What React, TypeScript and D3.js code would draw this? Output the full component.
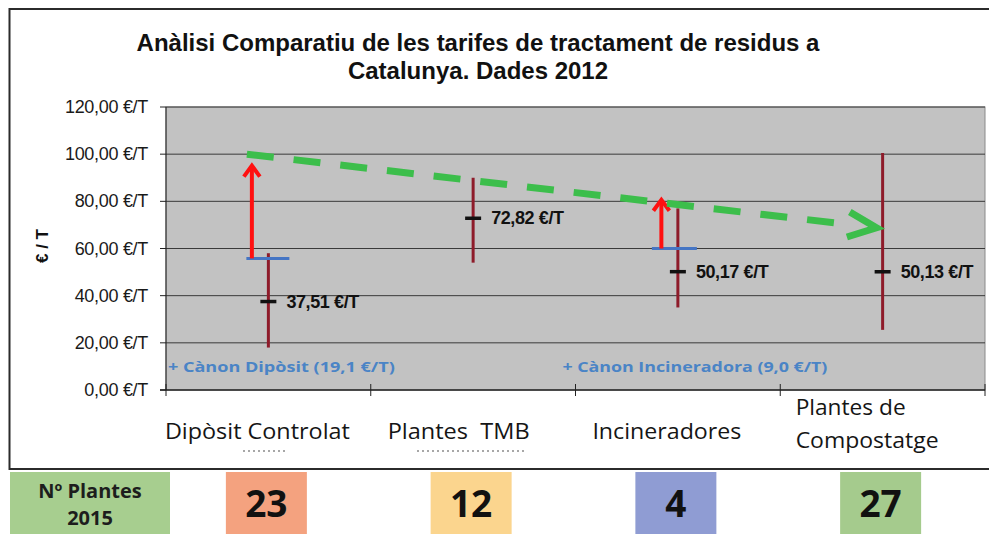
import React from "react";
import * as d3 from "d3";

// ---------- data ----------
const titleLines = [
  "Anàlisi Comparatiu de les tarifes de tractament de residus a",
  "Catalunya. Dades 2012",
];
const yAxisTitle = "€ / T";
const categories = ["Dipòsit Controlat", "Plantes  TMB", "Incineradores", "Plantes de|Compostatge"];
const maxValues = [58, 90, 77, 100.5];
const minValues = [18, 54, 35, 25.5];
const meanValues = [37.51, 72.82, 50.17, 50.13];
const meanLabels = ["37,51 €/T", "72,82 €/T", "50,17 €/T", "50,13 €/T"];
const yTicks = [0, 20, 40, 60, 80, 100, 120];
const yTickLabels = ["0,00 €/T", "20,00 €/T", "40,00 €/T", "60,00 €/T", "80,00 €/T", "100,00 €/T", "120,00 €/T"];

// canon (tax) additions: category index, level after canon, arrow tip value
const canonLabels = ["+ Cànon Dipòsit (19,1 €/T)", "+ Cànon Incineradora (9,0 €/T)"];
const canonCategory = [0, 2];
const canonLevels = [55.8, 60];
const canonArrowTips = [96, 81.5];
const canonLabelValue = 7.6;

// green trend arrow (position in category units, value)
const trendPos = [-0.105, 2.97];
const trendValues = [100, 68.8];

// number of plants 2015
const plantsLabel = ["Nº Plantes", "2015"];
const plantCounts = ["23", "12", "4", "27"];
const plantColors = ["#F4A27F", "#FBD58E", "#8F9CD3", "#A5CB8D"];
const plantsLabelColor = "#A7CE8F";

export default function App() {
  const W = 989;
  const H = 534;
  const plot = { left: 166, right: 985, top: 107, bottom: 390 };

  const x = d3.scaleLinear().domain([-0.5, 3.5]).range([plot.left, plot.right]);
  const y = d3.scaleLinear().domain([0, 120]).range([plot.bottom, plot.top]);

  const barColor = "#8E1B2A";
  const canonBlue = "#4575C4";
  const labelBlue = "#4A84C6";
  const green = "#3CBE4B";

  // trend line geometry
  const tx0 = x(trendPos[0]);
  const ty0 = y(trendValues[0]);
  const tx1 = x(trendPos[1]);
  const ty1 = y(trendValues[1]);
  const ang = Math.atan2(ty1 - ty0, tx1 - tx0);
  const headLen = 31;
  const phi = (24 * Math.PI) / 180;
  const headA: [number, number] = [tx1 - headLen * Math.cos(ang - phi), ty1 - headLen * Math.sin(ang - phi)];
  const headB: [number, number] = [tx1 - headLen * Math.cos(ang + phi), ty1 - headLen * Math.sin(ang + phi)];
  const lineEnd: [number, number] = [tx1 - 36 * Math.cos(ang), ty1 - 36 * Math.sin(ang)];
  const lineGen = d3.line();

  const catWidths = [185, 142, 149];
  const sans = "'Liberation Sans', Arial, sans-serif";

  return (
    <div style={{ position: "fixed", left: 0, top: 0, width: W, height: H, background: "#fff" }}>
      <svg width={W} height={H} viewBox={`0 0 ${W} ${H}`} style={{ display: "block" }}>
        <rect x={0} y={0} width={W} height={H} fill="#fff" />
        {/* outer frame */}
        <rect x={9.5} y={9} width={990} height={460} fill="#fff" stroke="#2b2b2b" strokeWidth={2} />

        {/* title */}
        {titleLines.map((t, i) => (
          <text
            key={t}
            x={478}
            y={51 + i * 28}
            textAnchor="middle"
            fontFamily={sans}
            fontWeight="bold"
            fontSize={24}
            fill="#111"
          >
            {t}
          </text>
        ))}

        {/* plot area */}
        <rect
          x={plot.left}
          y={plot.top}
          width={plot.right - plot.left}
          height={plot.bottom - plot.top}
          fill="#C2C2C2"
          stroke="#8a8a8a"
          strokeWidth={1}
        />
        {yTicks.filter((v) => v > 0).map((v) => (
          <line key={v} x1={plot.left} x2={plot.right} y1={y(v)} y2={y(v)} stroke="#3a3a3a" strokeWidth={1} />
        ))}

        {/* axes */}
        <line x1={plot.left} x2={plot.left} y1={plot.top} y2={plot.bottom} stroke="#222" strokeWidth={1} />
        <line x1={plot.left - 6} x2={plot.right} y1={plot.bottom} y2={plot.bottom} stroke="#222" strokeWidth={1.5} />
        {yTicks.map((v, i) => (
          <g key={v}>
            <line x1={plot.left - 6} x2={plot.left} y1={y(v)} y2={y(v)} stroke="#222" strokeWidth={1} />
            <text
              x={148}
              y={y(v) + 6}
              textAnchor="end"
              fontFamily={sans}
              fontSize={18}
              letterSpacing={-0.3}
              fill="#1a1a1a"
            >
              {yTickLabels[i]}
            </text>
          </g>
        ))}
        {d3.range(-0.5, 4, 1).map((p) => (
          <line key={p} x1={x(p)} x2={x(p)} y1={plot.bottom - 6} y2={plot.bottom + 6} stroke="#222" strokeWidth={1} />
        ))}

        {/* y axis title */}
        <text
          transform={`translate(48,246) rotate(-90)`}
          textAnchor="middle"
          fontFamily={sans}
          fontWeight="bold"
          fontSize={17}
          fill="#111"
        >
          {yAxisTitle}
        </text>

        {/* canon labels */}
        {canonLabels.map((t, i) => (
          <text
            key={t}
            x={x(canonCategory[i]) + (i === 0 ? 13 : 17)}
            y={y(canonLabelValue)}
            textAnchor="middle"
            fontFamily="'Open Sans', sans-serif"
            fontWeight="bold"
            fontSize={15}
            fill={labelBlue}
            textLength={i === 0 ? 227 : 265}
            lengthAdjust="spacingAndGlyphs"
          >
            {t}
          </text>
        ))}

        {/* high-low bars */}
        {categories.map((c, i) => (
          <g key={c}>
            <line
              x1={x(i)}
              x2={x(i)}
              y1={y(maxValues[i])}
              y2={y(minValues[i])}
              stroke={barColor}
              strokeWidth={3}
            />
            <line
              x1={x(i) - 8}
              x2={x(i) + 8}
              y1={y(meanValues[i])}
              y2={y(meanValues[i])}
              stroke="#111"
              strokeWidth={3.5}
            />
            <text
              x={x(i) + 18}
              y={y(meanValues[i]) + 6}
              fontFamily={sans}
              fontWeight="bold"
              fontSize={18}
              letterSpacing={-0.4}
              fill="#111"
            >
              {meanLabels[i]}
            </text>
          </g>
        ))}

        {/* canon levels and red arrows */}
        {canonCategory.map((ci, i) => {
          const ax = x(ci) - 16.5;
          const base = y(canonLevels[i]);
          const tip = y(canonArrowTips[i]);
          return (
            <g key={ci}>
              <line
                x1={ci === 0 ? x(ci) - 22 : x(ci) - 26}
                x2={ci === 0 ? x(ci) + 21 : x(ci) + 19}
                y1={base}
                y2={base}
                stroke={canonBlue}
                strokeWidth={3}
              />
              <line x1={ax} x2={ax} y1={base} y2={tip + 3} stroke="#FF1010" strokeWidth={4} />
              <polyline
                points={`${ax - 8},${tip + 13} ${ax},${tip + 2} ${ax + 8},${tip + 13}`}
                fill="none"
                stroke="#FF1010"
                strokeWidth={4}
              />
            </g>
          );
        })}

        {/* green trend arrow */}
        <path
          d={lineGen([[tx0, ty0], lineEnd]) || ""}
          fill="none"
          stroke={green}
          strokeWidth={7}
          strokeDasharray="27 20"
        />
        <polyline
          points={`${headA[0]},${headA[1]} ${tx1},${ty1} ${headB[0]},${headB[1]}`}
          fill="none"
          stroke={green}
          strokeWidth={7}
          strokeLinejoin="miter"
        />

        {/* category labels */}
        {categories.map((c, i) => {
          if (c.includes("|")) {
            const parts = c.split("|");
            return (
              <g key={c}>
                {parts.map((p, j) => (
                  <text
                    key={p}
                    x={x(i) - 87}
                    y={415 + j * 33}
                    fontFamily="'Open Sans', sans-serif"
                    fontSize={21}
                    fill="#151515"
                    textLength={j === 0 ? 110 : 143}
                    lengthAdjust="spacingAndGlyphs"
                  >
                    {p}
                  </text>
                ))}
              </g>
            );
          }
          return (
            <text
              key={c}
              x={x(i) - (i === 1 ? 14.5 : 11)}
              y={439}
              textAnchor="middle"
              fontFamily="'Open Sans', sans-serif"
              fontSize={21}
              fill="#151515"
              textLength={catWidths[i]}
              lengthAdjust="spacingAndGlyphs"
              style={{ whiteSpace: "pre" }}
            >
              {c}
            </text>
          );
        })}
        {/* faint dotted remnants under first two labels */}
        <line x1={243} x2={288} y1={451} y2={451} stroke="#8a8a8a" strokeWidth={1.5} strokeDasharray="2 3" />
        <line x1={417} x2={527} y1={451} y2={451} stroke="#8a8a8a" strokeWidth={1.5} strokeDasharray="2 3" />

        {/* bottom row: number of plants */}
        <rect x={10} y={472} width={160} height={70} fill={plantsLabelColor} />
        {plantsLabel.map((t, j) => (
          <text
            key={t}
            x={90}
            y={498 + j * 27}
            textAnchor="middle"
            fontFamily="'Open Sans', sans-serif"
            fontWeight="bold"
            fontSize={20}
            fill="#1d1d1d"
          >
            {t}
          </text>
        ))}
        {plantCounts.map((n, i) => (
          <g key={i}>
            <rect x={x(i) - 42.5} y={472} width={81} height={70} fill={plantColors[i]} />
            <text
              x={x(i) - 2}
              y={517}
              textAnchor="middle"
              fontFamily="'Open Sans', sans-serif"
              fontWeight="bold"
              fontSize={37}
              fill="#111"
            >
              {n}
            </text>
          </g>
        ))}
      </svg>
    </div>
  );
}
